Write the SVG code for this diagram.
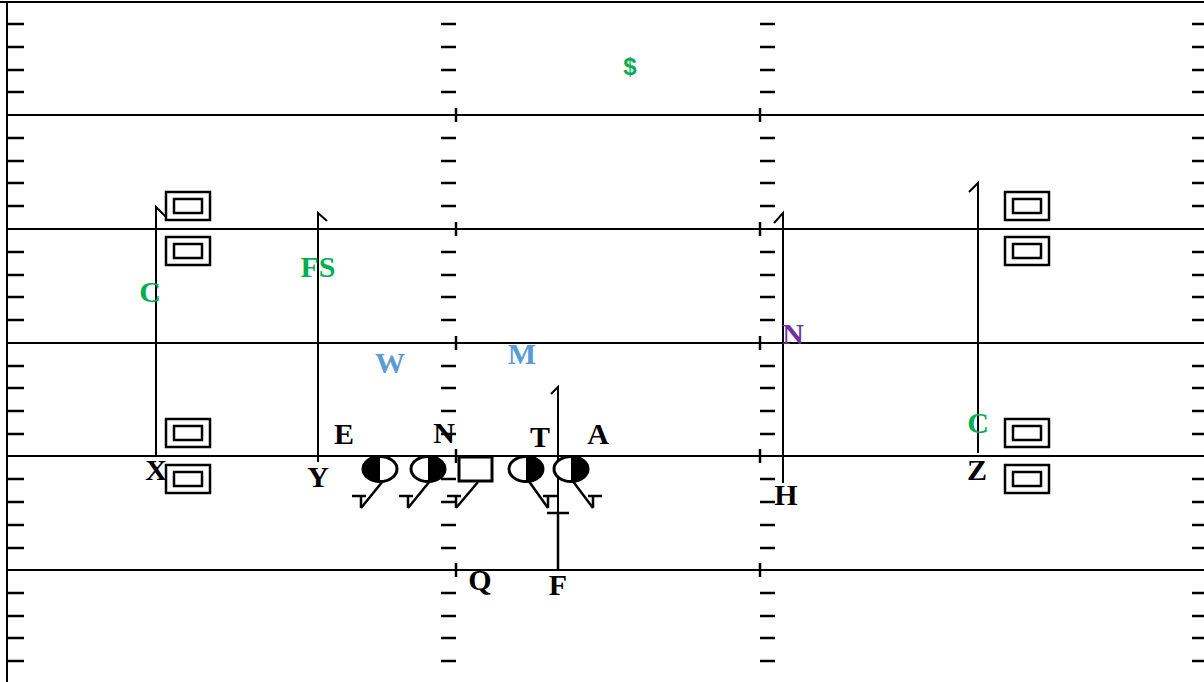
<svg xmlns="http://www.w3.org/2000/svg" width="1204" height="682" viewBox="0 0 1204 682">
<style>
.fl{stroke:#000;stroke-width:2;fill:none}
.tk{stroke:#000;stroke-width:2.5;fill:none}
.rt{stroke:#000;stroke-width:2;fill:none}
.bl{stroke:#000;stroke-width:2.5;fill:none}
.box{stroke:#000;stroke-width:2.5;fill:#fff}
.pl{stroke:#000;stroke-width:3;fill:#fff}
.lb{font-family:"Liberation Serif","Times New Roman",serif;font-weight:bold;font-size:30px;text-anchor:middle}
.k{fill:#000}.g{fill:#00B050}.b{fill:#5B9BD5}.p{fill:#7030A0}
</style>
<defs>
<g id="wr"><rect x="0" y="0" width="44" height="28" class="box"/><rect x="8" y="7" width="28" height="14" class="box"/></g>
<path id="capL" d="M-9 -12 H5 M0 -12 V0" class="bl"/>
<path id="capR" d="M9 -12 H-5 M0 -12 V0" class="bl"/>
</defs>
<rect width="1204" height="682" fill="#fff"/>
<g id="field">
<path class="fl" d="M0 2 H1204 M7 2 V682"/>
<path class="fl" d="M7 115 H1204 M7 229 H1204 M7 343 H1204 M7 456 H1204 M7 570 H1204"/>
<path class="tk" d="M456 108 V122 M760 108 V122 M456 222 V236 M760 222 V236 M456 336 V350 M760 336 V350 M456 449 V463 M760 449 V463 M456 563 V577 M760 563 V577"/>
<path class="tk" d="M8 24H24M441 24H456M760 24H775M1192 24H1204 M8 47H24M441 47H456M760 47H775M1192 47H1204 M8 70H24M441 70H456M760 70H775M1192 70H1204 M8 92H24M441 92H456M760 92H775M1192 92H1204 M8 138H24M441 138H456M760 138H775M1192 138H1204 M8 161H24M441 161H456M760 161H775M1192 161H1204 M8 183H24M441 183H456M760 183H775M1192 183H1204 M8 206H24M441 206H456M760 206H775M1192 206H1204 M8 252H24M441 252H456M760 252H775M1192 252H1204 M8 275H24M441 275H456M760 275H775M1192 275H1204 M8 297H24M441 297H456M760 297H775M1192 297H1204 M8 320H24M441 320H456M760 320H775M1192 320H1204 M8 366H24M441 366H456M760 366H775M1192 366H1204 M8 388H24M441 388H456M760 388H775M1192 388H1204 M8 411H24M441 411H456M760 411H775M1192 411H1204 M8 434H24M441 434H456M760 434H775M1192 434H1204 M8 479H24M441 479H456M760 479H775M1192 479H1204 M8 502H24M441 502H456M760 502H775M1192 502H1204 M8 525H24M441 525H456M760 525H775M1192 525H1204 M8 548H24M441 548H456M760 548H775M1192 548H1204 M8 593H24M441 593H456M760 593H775M1192 593H1204 M8 616H24M441 616H456M760 616H775M1192 616H1204 M8 638H24M441 638H456M760 638H775M1192 638H1204 M8 661H24M441 661H456M760 661H775M1192 661H1204"/>
</g>
<g id="connectors">
<path class="rt" d="M156 455 V207 L166 217"/>
<path class="rt" d="M318 462 V213 L327 221"/>
<path class="rt" d="M783 483 V213 L774 223"/>
<path class="rt" d="M978 453 V183 L969 192"/>
<path class="rt" d="M558 512 V387 L551 394"/>
<path class="bl" d="M383 481 L361 508"/><use href="#capL" x="361" y="508"/>
<path class="bl" d="M430 481 L408 508"/><use href="#capL" x="408" y="508"/>
<path class="bl" d="M478 482 L456 508"/><use href="#capL" x="456" y="508"/>
<path class="bl" d="M528 480 L548 508"/><use href="#capR" x="548" y="508"/>
<path class="bl" d="M572 480 L593 508"/><use href="#capR" x="593" y="508"/>
<path class="bl" d="M547 513 H569 M558 513 V570"/>
</g>
<g id="wr-left"><use href="#wr" x="166" y="192"/><use href="#wr" x="166" y="237"/><use href="#wr" x="166" y="419"/><use href="#wr" x="166" y="465"/></g>
<g id="wr-right"><use href="#wr" x="1005" y="192"/><use href="#wr" x="1005" y="237"/><use href="#wr" x="1005" y="419"/><use href="#wr" x="1005" y="465"/></g>
<g id="player-1"><ellipse cx="380" cy="469" rx="17" ry="12.5" class="pl"/><path d="M380 456.5 A17 12.5 0 0 0 380 481.5 Z" fill="#000"/></g>
<g id="player-2"><ellipse cx="428" cy="469" rx="17" ry="12.5" class="pl"/><path d="M428 456.5 A17 12.5 0 0 1 428 481.5 Z" fill="#000"/></g>
<g id="player-center"><rect x="459" y="457" width="33" height="24" class="pl"/></g>
<g id="player-4"><ellipse cx="526" cy="469" rx="17" ry="12.5" class="pl"/><path d="M526 456.5 A17 12.5 0 0 1 526 481.5 Z" fill="#000"/></g>
<g id="player-5"><ellipse cx="571" cy="469" rx="17" ry="12.5" class="pl"/><path d="M571 456.5 A17 12.5 0 0 1 571 481.5 Z" fill="#000"/></g>
<g id="labels">
<text x="630" y="75" fill="#00B050" style="font-family:'Liberation Sans',Arial,sans-serif;font-weight:bold;font-size:24px;text-anchor:middle">$</text>
<text x="150" y="302" class="lb g">C</text>
<text x="318" y="277" class="lb g">FS</text>
<text x="390" y="373" class="lb b">W</text>
<text x="522" y="364" class="lb b">M</text>
<text x="793" y="344" class="lb p">N</text>
<text x="978" y="433" class="lb g">C</text>
<text x="156" y="480" class="lb k">X</text>
<text x="318" y="487" class="lb k">Y</text>
<text x="344" y="444" class="lb k">E</text>
<text x="444" y="443" class="lb k">N</text>
<text x="540" y="447" class="lb k">T</text>
<text x="598" y="444" class="lb k">A</text>
<text x="480" y="590" class="lb k">Q</text>
<text x="558" y="595" class="lb k">F</text>
<text x="786" y="505" class="lb k">H</text>
<text x="977" y="480" class="lb k">Z</text>
</g>
</svg>
